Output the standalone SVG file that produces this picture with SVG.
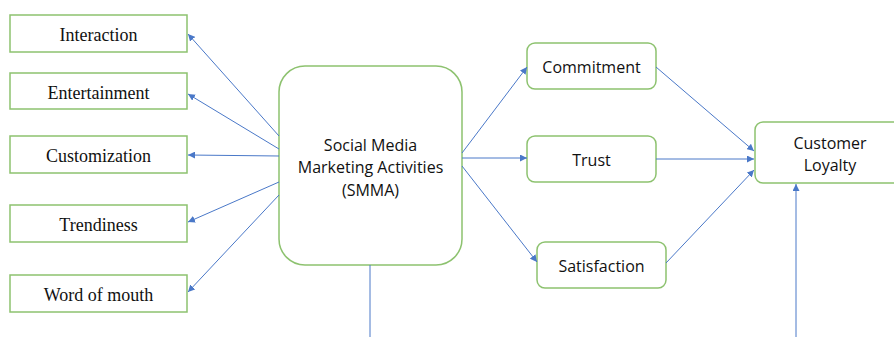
<svg xmlns="http://www.w3.org/2000/svg" width="894" height="337" viewBox="0 0 894 337">
<style>
.box{fill:#fff;stroke:#8DC26F;stroke-width:1.5}
.ser{font-family:"Liberation Serif","Times New Roman",serif;font-size:18px;fill:#111;text-anchor:middle}
.san{font-family:"Open Sans","Noto Sans",sans-serif;font-size:16px;fill:#111;text-anchor:middle}
.c{stroke:#4A78C8;stroke-width:1;fill:none;marker-end:url(#ah)}
</style>
<defs>
<marker id="ah" viewBox="0 0 10 10" refX="10" refY="5" markerWidth="7" markerHeight="7" markerUnits="userSpaceOnUse" orient="auto">
<path d="M0,0L10,5L0,10z" fill="#4A78C8"/>
</marker>
</defs>
<rect width="894" height="337" fill="#fff"/>
<g id="interaction"><rect class="box" x="10" y="15" width="177" height="37"/><text class="ser" x="98.5" y="41">Interaction</text></g>
<g id="entertainment"><rect class="box" x="10" y="73" width="177" height="36"/><text class="ser" x="98.5" y="99">Entertainment</text></g>
<g id="customization"><rect class="box" x="10" y="136" width="177" height="37"/><text class="ser" x="98.5" y="162">Customization</text></g>
<g id="trendiness"><rect class="box" x="10" y="205" width="177" height="37"/><text class="ser" x="98.5" y="231">Trendiness</text></g>
<g id="wom"><rect class="box" x="10" y="275" width="177" height="37"/><text class="ser" x="98.5" y="301">Word of mouth</text></g>
<g id="smma"><rect class="box" x="279" y="66" width="183" height="199" rx="26"/>
<text class="san" x="370.5" y="151">Social Media</text>
<text class="san" x="370.5" y="173">Marketing Activities</text>
<text class="san" x="370.5" y="196">(SMMA)</text></g>
<g id="commitment"><rect class="box" x="527" y="43" width="129" height="46" rx="8"/><text class="san" x="591.5" y="73">Commitment</text></g>
<g id="trust"><rect class="box" x="527" y="136" width="129" height="46" rx="8"/><text class="san" x="591.5" y="166">Trust</text></g>
<g id="satisfaction"><rect class="box" x="537" y="242" width="129" height="46" rx="8"/><text class="san" x="601.5" y="272">Satisfaction</text></g>
<g id="loyalty"><rect class="box" x="755" y="122" width="150" height="61" rx="8"/>
<text class="san" x="830" y="149">Customer</text>
<text class="san" x="830" y="171">Loyalty</text></g>
<g id="connectors">
<line class="c" x1="279" y1="136" x2="188" y2="34"/>
<line class="c" x1="279" y1="149" x2="188" y2="94"/>
<line class="c" x1="279" y1="156" x2="188" y2="155"/>
<line class="c" x1="279" y1="182" x2="188" y2="222"/>
<line class="c" x1="279" y1="195" x2="188" y2="292"/>
<line class="c" x1="462" y1="153" x2="527" y2="67"/>
<line class="c" x1="462" y1="158" x2="527" y2="158"/>
<line class="c" x1="462" y1="166" x2="537" y2="262"/>
<line class="c" x1="656" y1="67" x2="754" y2="151"/>
<line class="c" x1="656" y1="159" x2="754" y2="159"/>
<line class="c" x1="666" y1="263" x2="754" y2="170"/>
<line class="c" x1="796" y1="337" x2="796" y2="184"/>
<line x1="370" y1="265" x2="370" y2="337" stroke="#4A78C8" stroke-width="1"/>
</g>
</svg>
